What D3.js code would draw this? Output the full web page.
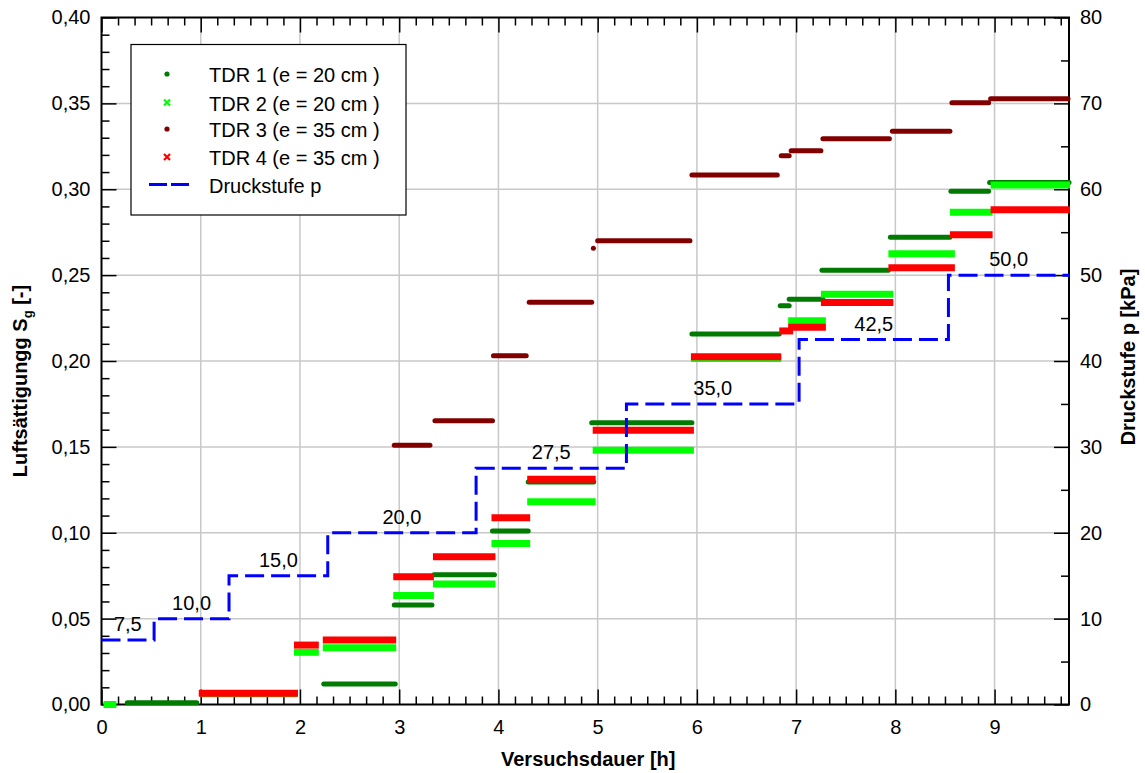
<!DOCTYPE html>
<html>
<head>
<meta charset="utf-8">
<script src="https://cdn.jsdelivr.net/npm/d3@7"></script>
<style>
  html, body { margin: 0; padding: 0; background: #fff; }
  svg { display: block; font-family: "Liberation Sans", Arial, sans-serif; }
</style>
</head>
<body>
<svg id="chart" width="1145" height="773"></svg>
<script>
// Measured air saturation per TDR probe: [start h, end h, S_g]
const tdr1Segments = [
  [0.26, 0.96, 0.001],
  [2.24, 2.96, 0.012],
  [2.95, 3.33, 0.058],
  [3.35, 3.96, 0.0755],
  [3.94, 4.30, 0.101],
  [4.30, 4.96, 0.1295],
  [4.94, 5.95, 0.164],
  [5.95, 6.83, 0.2157],
  [6.84, 6.93, 0.2322],
  [6.93, 7.27, 0.236],
  [7.26, 7.93, 0.2528],
  [7.95, 8.55, 0.272],
  [8.56, 8.94, 0.2988],
  [8.95, 9.75, 0.304]
];
const tdr2Segments = [
  [0.02, 0.15, 0.0],
  [1.00, 1.97, 0.0062],
  [1.94, 2.19, 0.0304],
  [2.23, 2.97, 0.0331],
  [2.94, 3.35, 0.0634],
  [3.34, 3.97, 0.0702],
  [3.93, 4.32, 0.0938],
  [4.29, 4.98, 0.1181],
  [4.95, 5.97, 0.148],
  [5.94, 6.85, 0.2015],
  [6.92, 7.30, 0.2235],
  [7.25, 7.98, 0.2388],
  [7.93, 8.60, 0.2625],
  [8.55, 8.98, 0.2866],
  [8.96, 9.76, 0.3025]
];
const tdr3Segments = [
  [2.95, 3.31, 0.151],
  [3.36, 3.94, 0.1652],
  [3.95, 4.28, 0.203],
  [4.31, 4.94, 0.2342],
  [4.957, 4.957, 0.2657],
  [5.00, 5.93, 0.270],
  [5.95, 6.81, 0.3083],
  [6.85, 6.93, 0.3195],
  [6.95, 7.25, 0.3224],
  [7.27, 7.94, 0.3294],
  [7.97, 8.55, 0.3338],
  [8.57, 8.94, 0.3504],
  [8.96, 9.74, 0.3527]
];
const tdr4Segments = [
  [0.98, 1.98, 0.0065],
  [1.94, 2.19, 0.0346],
  [2.23, 2.97, 0.0375],
  [2.94, 3.35, 0.0744],
  [3.34, 3.97, 0.086],
  [3.93, 4.32, 0.1088],
  [4.29, 4.98, 0.1311],
  [4.95, 5.97, 0.1597],
  [5.94, 6.85, 0.2025],
  [6.83, 6.97, 0.2175],
  [6.92, 7.30, 0.2196],
  [7.25, 7.98, 0.234],
  [7.93, 8.60, 0.2543],
  [8.55, 8.98, 0.2735],
  [8.96, 9.76, 0.288]
];
// Pressure stages: [start h, end h, p in kPa]
const pressureSteps = [
  [0, 0.53, 7.5],
  [0.53, 1.285, 10],
  [1.285, 2.28, 15],
  [2.28, 3.775, 20],
  [3.775, 5.29, 27.5],
  [5.29, 7.03, 35],
  [7.03, 8.535, 42.5],
  [8.535, 9.75, 50]
];
const xMajorTicks = [0, 1, 2, 3, 4, 5, 6, 7, 8, 9];
const yLeftTicks = [0, 0.05, 0.10, 0.15, 0.20, 0.25, 0.30, 0.35, 0.40];
const yRightTicks = [0, 10, 20, 30, 40, 50, 60, 70, 80];

const series = [
  { name: "TDR 1 (e = 20 cm )", data: tdr1Segments, color: "#007a00", kind: "dot" },
  { name: "TDR 2 (e = 20 cm )", data: tdr2Segments, color: "#00ff00", kind: "cross" },
  { name: "TDR 3 (e = 35 cm )", data: tdr3Segments, color: "#800000", kind: "dot" },
  { name: "TDR 4 (e = 35 cm )", data: tdr4Segments, color: "#ff0000", kind: "cross" }
];

const svg = d3.select("#chart");
const plotLeft = 101.5, plotRight = 1069, plotTop = 17.5, plotBottom = 704.5;

const x = d3.scaleLinear().domain([0, 9.75]).range([plotLeft, plotRight]);
const yL = d3.scaleLinear().domain([0, 0.40]).range([plotBottom, plotTop]);
const yR = d3.scaleLinear().domain([0, 80]).range([plotBottom, plotTop]);

const comma = f => v => d3.format(f)(v).replace(".", ",");

svg.append("rect").attr("width", 1145).attr("height", 773).attr("fill", "#fff");

// grid
const grid = svg.append("g").attr("stroke", "#c8c8c8").attr("stroke-width", 1.5);
grid.selectAll("line.gx").data(xMajorTicks.filter(d => d > 0)).join("line")
  .attr("x1", d => x(d)).attr("x2", d => x(d)).attr("y1", plotTop).attr("y2", plotBottom);
grid.selectAll("line.gy").data(yLeftTicks.filter(d => d > 0 && d < 0.4)).join("line")
  .attr("x1", plotLeft).attr("x2", plotRight).attr("y1", d => yL(d)).attr("y2", d => yL(d));

// minor tick positions (10 min on time axis, 0.01 and 5 kPa on value axes)
const notWhole = v => Math.abs(v - Math.round(v)) > 1e-6;
const xMinor = d3.range(0, 59).map(i => i / 6).filter(v => v <= 9.75 && notWhole(v));
const yLMinor = d3.range(0, 41).map(i => i / 100).filter(v => notWhole(v * 20));
const yRMinor = [5, 15, 25, 35, 45, 55, 65, 75];

function styleAxis(g) {
  g.select(".domain").remove();
  g.selectAll(".tick line").attr("stroke", "#000").attr("stroke-width", 1.5);
  g.selectAll(".tick text").attr("font-size", 20).attr("fill", "#000");
}

// bottom axis
svg.append("g").attr("transform", `translate(0,${plotBottom})`)
  .call(d3.axisBottom(x).tickValues(xMajorTicks).tickSize(-15).tickSizeOuter(0).tickPadding(15).tickFormat(d3.format("d")))
  .call(styleAxis);
svg.append("g").attr("transform", `translate(0,${plotBottom})`)
  .call(d3.axisBottom(x).tickValues(xMinor).tickSize(-8).tickSizeOuter(0).tickFormat(""))
  .call(styleAxis);
// top axis
svg.append("g").attr("transform", `translate(0,${plotTop})`)
  .call(d3.axisTop(x).tickValues(xMajorTicks).tickSize(-15).tickSizeOuter(0).tickFormat(""))
  .call(styleAxis);
svg.append("g").attr("transform", `translate(0,${plotTop})`)
  .call(d3.axisTop(x).tickValues(xMinor).tickSize(-8).tickSizeOuter(0).tickFormat(""))
  .call(styleAxis);
// left axis
svg.append("g").attr("transform", `translate(${plotLeft},0)`)
  .call(d3.axisLeft(yL).tickValues(yLeftTicks).tickSize(-15).tickSizeOuter(0).tickPadding(11).tickFormat(comma(".2f")))
  .call(styleAxis);
svg.append("g").attr("transform", `translate(${plotLeft},0)`)
  .call(d3.axisLeft(yL).tickValues(yLMinor).tickSize(-8).tickSizeOuter(0).tickFormat(""))
  .call(styleAxis);
// right axis
svg.append("g").attr("transform", `translate(${plotRight},0)`)
  .call(d3.axisRight(yR).tickValues(yRightTicks).tickSize(-15).tickSizeOuter(0).tickPadding(11).tickFormat(d3.format("d")))
  .call(styleAxis);
svg.append("g").attr("transform", `translate(${plotRight},0)`)
  .call(d3.axisRight(yR).tickValues(yRMinor).tickSize(-8).tickSizeOuter(0).tickFormat(""))
  .call(styleAxis);

// frame
svg.append("rect").attr("x", plotLeft).attr("y", plotTop)
  .attr("width", plotRight - plotLeft).attr("height", plotBottom - plotTop)
  .attr("fill", "none").attr("stroke", "#000").attr("stroke-width", 2);

// measured series as runs of dense markers
series.forEach(s => {
  svg.append("g").selectAll("line").data(s.data).join("line")
    .attr("x1", d => x(d[0])).attr("x2", d => x(d[1]))
    .attr("y1", d => yL(d[2])).attr("y2", d => yL(d[2]))
    .attr("stroke", s.color)
    .attr("stroke-width", s.kind === "dot" ? 5 : 7)
    .attr("stroke-linecap", s.kind === "dot" ? "round" : "butt");
});

// pressure stages (right axis)
const pressurePts = [];
pressureSteps.forEach(d => { pressurePts.push([d[0], d[2]]); pressurePts.push([d[1], d[2]]); });
svg.append("path").datum(pressurePts)
  .attr("d", d3.line().x(d => x(d[0])).y(d => yR(d[1])))
  .attr("fill", "none").attr("stroke", "#0000ff").attr("stroke-width", 3)
  .attr("stroke-dasharray", "19,7");

svg.append("g").selectAll("text").data(pressureSteps).join("text")
  .attr("x", d => x((d[0] + d[1]) / 2)).attr("y", d => yR(d[2]) - 9)
  .attr("text-anchor", "middle").attr("font-size", 20).attr("fill", "#000")
  .text(d => comma(".1f")(d[2]));

// legend
const lg = svg.append("g");
lg.append("rect").attr("x", 131).attr("y", 44.5).attr("width", 275).attr("height", 170.5)
  .attr("fill", "#fff").attr("stroke", "#000").attr("stroke-width", 1.2);
const rowsY = [74, 102.5, 129, 157];
series.forEach((s, i) => {
  const cy = rowsY[i];
  if (s.kind === "dot") {
    lg.append("circle").attr("cx", 167).attr("cy", cy).attr("r", 2.6).attr("fill", s.color);
  } else {
    lg.append("path").attr("d", `M164,${cy - 3}L170,${cy + 3}M170,${cy - 3}L164,${cy + 3}`)
      .attr("stroke", s.color).attr("stroke-width", 2.2);
  }
  lg.append("text").attr("x", 209).attr("y", cy + 8).attr("font-size", 20).text(s.name);
});
lg.append("line").attr("x1", 149).attr("x2", 189).attr("y1", 184.5).attr("y2", 184.5)
  .attr("stroke", "#0000ff").attr("stroke-width", 3).attr("stroke-dasharray", "18,4");
lg.append("text").attr("x", 209).attr("y", 192.5).attr("font-size", 20).text("Druckstufe p");

// axis titles
svg.append("text").attr("x", (plotLeft + plotRight) / 2 + 3).attr("y", 766)
  .attr("text-anchor", "middle").attr("font-size", 20).attr("font-weight", "bold")
  .text("Versuchsdauer [h]");

const yt = svg.append("text").attr("transform", "translate(27,381) rotate(-90)")
  .attr("text-anchor", "middle").attr("font-size", 20).attr("font-weight", "bold");
yt.append("tspan").text("Luftsättigungg S");
yt.append("tspan").attr("font-size", 13).attr("dy", 5).text("g");
yt.append("tspan").attr("dy", -5).text(" [-]");

svg.append("text").attr("transform", "translate(1135,357) rotate(-90)")
  .attr("text-anchor", "middle").attr("font-size", 20).attr("font-weight", "bold")
  .text("Druckstufe p [kPa]");
</script>
</body>
</html>
